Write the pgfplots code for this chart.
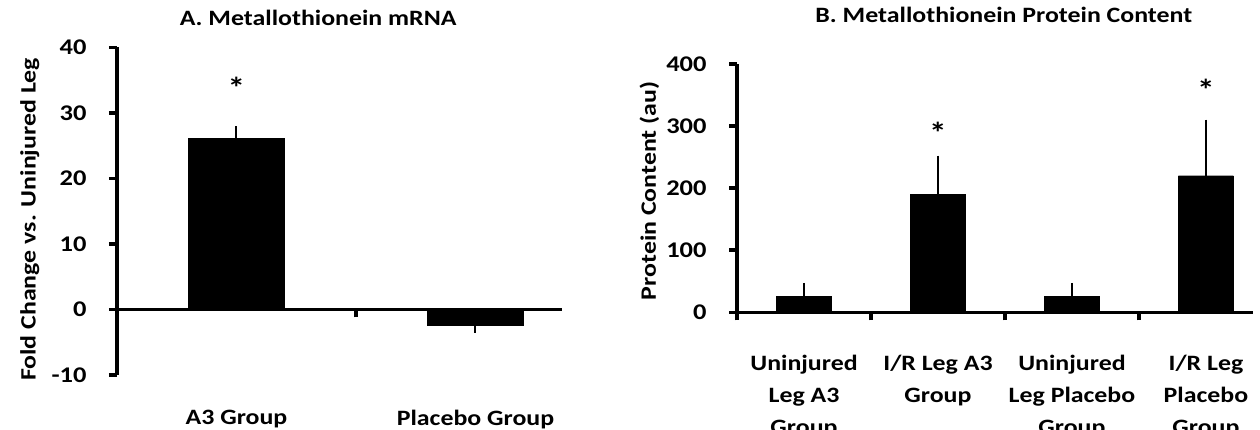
\documentclass[border=0pt]{standalone}
\usepackage{fontspec}
\setmainfont{Carlito}[FakeStretch=1.18]
\usepackage{pgfplots}
\pgfplotsset{compat=1.18}
\tikzset{star/.style={font=\fontsize{30}{32}\selectfont\bfseries, inner sep=0pt, yshift=-5bp}}
\begin{document}
\begin{tikzpicture}
\useasboundingbox (0,0) rectangle (1260bp,430bp);
\pgfplotsset{
  common/.style={
    scale only axis,
    axis y line=left,
    axis x line=middle,
    axis line style={-, line width=3.5bp, black},
    hide obscured x ticks=false,
    hide obscured y ticks=false,
    /pgf/number format/assume math mode=true,
    tick label style={font=\fontsize{22.5}{26}\selectfont\bfseries},
    ytick align=outside,
    xtick align=outside,
    major tick length=8bp,
    minor tick length=8bp,
    y tick style={line width=3.5bp, black},
    major x tick style={draw=none},
    minor x tick style={line width=3.5bp, black},
    yticklabel style={anchor=east, xshift=-19bp},
    xticklabel style={align=center, font=\fontsize{22}{32.5}\selectfont\bfseries},
    ylabel style={font=\fontsize{22}{26}\selectfont\bfseries, anchor=center},
    title style={font=\fontsize{22}{26}\selectfont\bfseries, anchor=center},
    clip=false,
    error bars/error bar style={line width=2bp, black},
    error bars/error mark options={line width=2bp, black, mark size=6.5bp},
  }
}
% Panel A
\begin{axis}[common,
  at={(117bp,55bp)}, anchor=south west,
  width=445bp, height=327.7bp,
  xmin=-0.5, xmax=1.362, ymin=-10, ymax=40,
  ytick={-10,0,10,20,30,40},
  xtick={0,1}, xticklabels={A3 Group, Placebo Group},
  minor xtick={0.5},
  xticklabel style={yshift=-89bp},
  ylabel={Fold Change vs. Uninjured Leg},
  ylabel style={at={(axis description cs:-0.196,0.475)}},
  title={A. Metallothionein mRNA},
  title style={at={(axis description cs:0.452,1.072)}},
]
\addplot[ybar, bar width=96bp, fill=black, draw=black,
  error bars/.cd, y dir=plus, y explicit]
  coordinates {(0,26.2) +- (0,0.8)};
\addplot[ybar, bar width=96bp, fill=black, draw=black,
  error bars/.cd, y dir=minus, y explicit]
  coordinates {(1,-2.4) +- (0,0.2)};
\node[star] at (axis cs:0,34.6) {*};
\end{axis}
% Panel B
\begin{axis}[common,
  at={(737bp,117.7bp)}, anchor=south west,
  width=516bp, height=248.3bp,
  xmin=-0.5, xmax=3.351, ymin=0, ymax=400,
  ytick={0,100,200,300,400},
  xtick={0,1,2,3},
  xticklabels={{Uninjured\\Leg A3\\Group},{I/R Leg A3\\Group},{Uninjured\\Leg Placebo\\Group},{I/R Leg\\Placebo\\Group}},
  minor xtick={-0.5,0.5,1.5,2.5},
  xticklabel style={yshift=-31bp},
  ylabel={Protein Content (au)},
  ylabel style={at={(axis description cs:-0.170,0.489)}},
  title={B. Metallothionein Protein Content},
  title style={at={(axis description cs:0.517,1.175)}},
]
\addplot[ybar, bar width=55bp, fill=black, draw=black,
  error bars/.cd, y dir=plus, y explicit]
  coordinates {(0,26) +- (0,11) (1,190) +- (0,52) (2,26) +- (0,11) (3,220) +- (0,80)};
\node[star] at (axis cs:1,297) {*};
\node[star] at (axis cs:3,367) {*};
\end{axis}
\end{tikzpicture}
\end{document}
